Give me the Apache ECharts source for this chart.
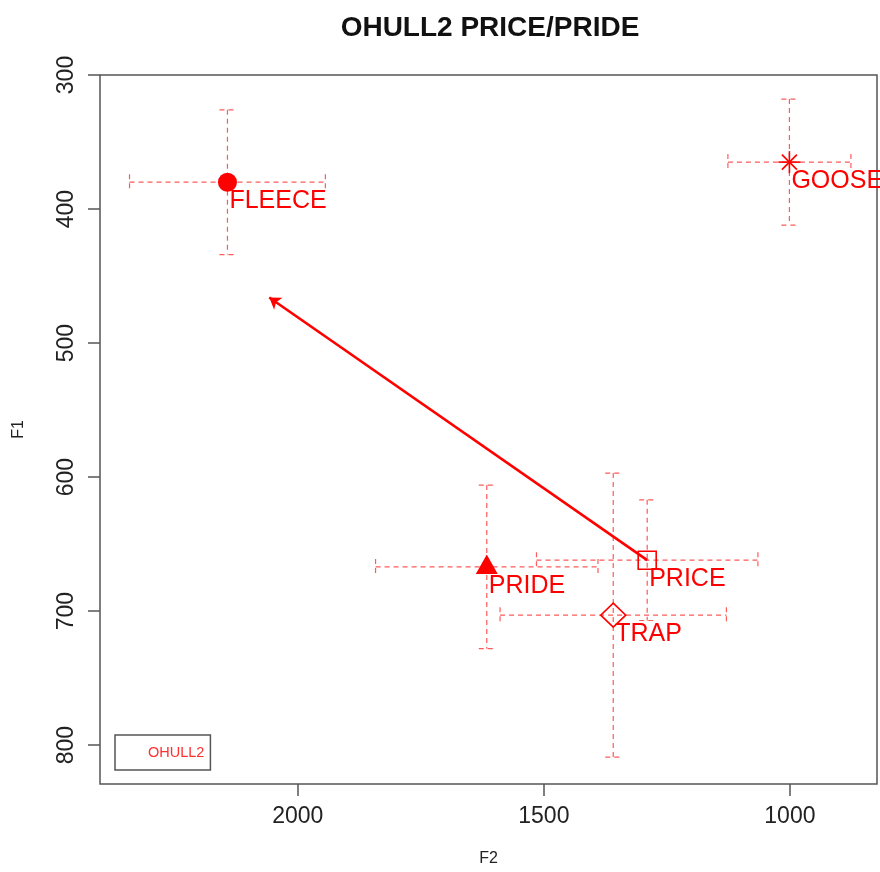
<!DOCTYPE html>
<html>
<head>
<meta charset="utf-8">
<script src="https://cdn.jsdelivr.net/npm/echarts@6/dist/echarts.min.js"></script>
<style>
  html, body { margin: 0; padding: 0; background: #ffffff; }
  #chart { width: 880px; height: 872px; }
</style>
</head>
<body>
<div id="chart"></div>
<script>
// Vowel means (Hz) with one standard deviation on each formant
const vowels  = ['FLEECE', 'GOOSE', 'PRIDE', 'PRICE', 'TRAP'];
const f2Mean  = [2143, 1001, 1616, 1290, 1359];
const f1Mean  = [380, 365, 667, 662, 703];
const f2Sd    = [199, 125, 226, 225, 230];
const f1Sd    = [54, 47, 61, 45, 106];
const markerShapes = ['circle', 'asterisk', 'triangle', 'square', 'diamond'];

// Shift of PRICE towards its target
const shiftFrom = [1290, 662];
const shiftTo   = [2058, 466];

const f2Ticks = [2000, 1500, 1000];
const f1Ticks = [300, 400, 500, 600, 700, 800];

const RED = '#ff0000';
const BAR_RED = '#ff5a5a';
const FONT = '"Liberation Sans", Arial, Helvetica, sans-serif';

const chart = echarts.init(document.getElementById('chart'), null, { renderer: 'canvas' });

const pointData = vowels.map((v, i) => [f2Mean[i], f1Mean[i], f2Sd[i], f1Sd[i], i]);

function dashedLine(x1, y1, x2, y2) {
  return {
    type: 'line',
    shape: { x1, y1, x2, y2 },
    style: { stroke: BAR_RED, lineWidth: 1.2, lineDash: [5, 4], fill: null }
  };
}

function renderErrorBars(params, api) {
  const x = api.value(0), y = api.value(1), sx = api.value(2), sy = api.value(3);
  const c = api.coord([x, y]);
  const l = api.coord([x + sx, y]);
  const r = api.coord([x - sx, y]);
  const t = api.coord([x, y - sy]);
  const b = api.coord([x, y + sy]);
  const cap = 8;
  return {
    type: 'group',
    children: [
      dashedLine(l[0], c[1], r[0], c[1]),
      dashedLine(l[0], c[1] - cap, l[0], c[1] + cap),
      dashedLine(r[0], c[1] - cap, r[0], c[1] + cap),
      dashedLine(c[0], t[1], c[0], b[1]),
      dashedLine(c[0] - cap, t[1], c[0] + cap, t[1]),
      dashedLine(c[0] - cap, b[1], c[0] + cap, b[1])
    ]
  };
}

function markerShape(kind, cx, cy) {
  const stroke = { stroke: RED, lineWidth: 1.6, fill: null };
  switch (kind) {
    case 'circle':
      return [{ type: 'circle', shape: { cx, cy, r: 9.5 }, style: { fill: RED } }];
    case 'asterisk': {
      const a = 11, d = 7.5;
      return [
        { type: 'line', shape: { x1: cx - a, y1: cy, x2: cx + a, y2: cy }, style: stroke },
        { type: 'line', shape: { x1: cx, y1: cy - a, x2: cx, y2: cy + a }, style: stroke },
        { type: 'line', shape: { x1: cx - d, y1: cy - d, x2: cx + d, y2: cy + d }, style: stroke },
        { type: 'line', shape: { x1: cx - d, y1: cy + d, x2: cx + d, y2: cy - d }, style: stroke }
      ];
    }
    case 'triangle':
      return [{ type: 'polygon', shape: { points: [[cx, cy - 12.5], [cx - 11, cy + 7], [cx + 11, cy + 7]] }, style: { fill: RED } }];
    case 'square':
      return [{ type: 'rect', shape: { x: cx - 9, y: cy - 9, width: 18, height: 18 }, style: stroke }];
    case 'diamond':
      return [{ type: 'polygon', shape: { points: [[cx, cy - 12], [cx + 12.5, cy], [cx, cy + 12], [cx - 12.5, cy]] }, style: stroke }];
  }
  return [];
}

function renderMarkers(params, api) {
  const i = api.value(4);
  const c = api.coord([api.value(0), api.value(1)]);
  const children = markerShape(markerShapes[i], c[0], c[1]);
  children.push({
    type: 'text',
    style: {
      text: vowels[i],
      x: c[0] + 2,
      y: c[1] + 19,
      fill: RED,
      font: '25px ' + FONT,
      textAlign: 'left',
      textVerticalAlign: 'middle'
    }
  });
  return { type: 'group', children };
}

const plainNumber = (v) => String(v);

const option = {
  backgroundColor: '#ffffff',
  animation: false,
  title: {
    text: 'OHULL2 PRICE/PRIDE',
    left: 490,
    top: 14,
    padding: 0,
    textAlign: 'center',
    textStyle: { fontFamily: FONT, fontSize: 28, fontWeight: 'bold', color: '#111' }
  },
  legend: {
    data: [{ name: 'OHULL2', itemStyle: { opacity: 0 } }],
    selectedMode: false,
    left: 115,
    top: 735,
    padding: [10, 6, 10, 8],
    itemWidth: 20,
    itemHeight: 14,
    borderColor: '#555',
    borderWidth: 1.5,
    borderRadius: 0,
    textStyle: { color: '#ff3030', fontFamily: FONT, fontSize: 14.5, padding: [0, 0, 0, 0] }
  },
  grid: {
    left: 100, right: 3, top: 75, bottom: 88,
    show: true,
    borderColor: '#555',
    borderWidth: 1.5,
    backgroundColor: 'transparent'
  },
  xAxis: {
    type: 'value',
    inverse: true,
    min: 823,
    max: 2402,
    name: 'F2',
    nameLocation: 'middle',
    nameGap: 67,
    nameTextStyle: { fontFamily: FONT, fontSize: 16, color: '#222' },
    axisLine: { show: false },
    splitLine: { show: false },
    axisTick: { show: true, customValues: f2Ticks, length: 12, lineStyle: { color: '#555', width: 1.5 } },
    axisLabel: { customValues: f2Ticks, formatter: plainNumber, margin: 21, fontFamily: FONT, fontSize: 23, color: '#222' }
  },
  yAxis: {
    type: 'value',
    inverse: true,
    min: 300,
    max: 829,
    name: 'F1',
    nameLocation: 'middle',
    nameGap: 73,
    nameTextStyle: { fontFamily: FONT, fontSize: 16, color: '#222' },
    axisLine: { show: false },
    splitLine: { show: false },
    axisTick: { show: true, customValues: f1Ticks, length: 12, lineStyle: { color: '#555', width: 1.5 } },
    axisLabel: { customValues: f1Ticks, formatter: plainNumber, rotate: 90, margin: 22, fontFamily: FONT, fontSize: 23, color: '#222' }
  },
  series: [
    {
      name: 'sd',
      type: 'custom',
      coordinateSystem: 'cartesian2d',
      renderItem: renderErrorBars,
      data: pointData,
      z: 2,
      silent: true
    },
    {
      name: 'shift',
      type: 'lines',
      coordinateSystem: 'cartesian2d',
      data: [{ coords: [shiftFrom, shiftTo] }],
      lineStyle: { color: RED, width: 2.6, opacity: 1, curveness: 0 },
      symbol: ['none', 'arrow'],
      symbolSize: 11,
      z: 3,
      silent: true
    },
    {
      name: 'OHULL2',
      type: 'custom',
      coordinateSystem: 'cartesian2d',
      renderItem: renderMarkers,
      data: pointData,
      itemStyle: { color: RED },
      z: 4,
      silent: true
    }
  ]
};

chart.setOption(option);
</script>
</body>
</html>
